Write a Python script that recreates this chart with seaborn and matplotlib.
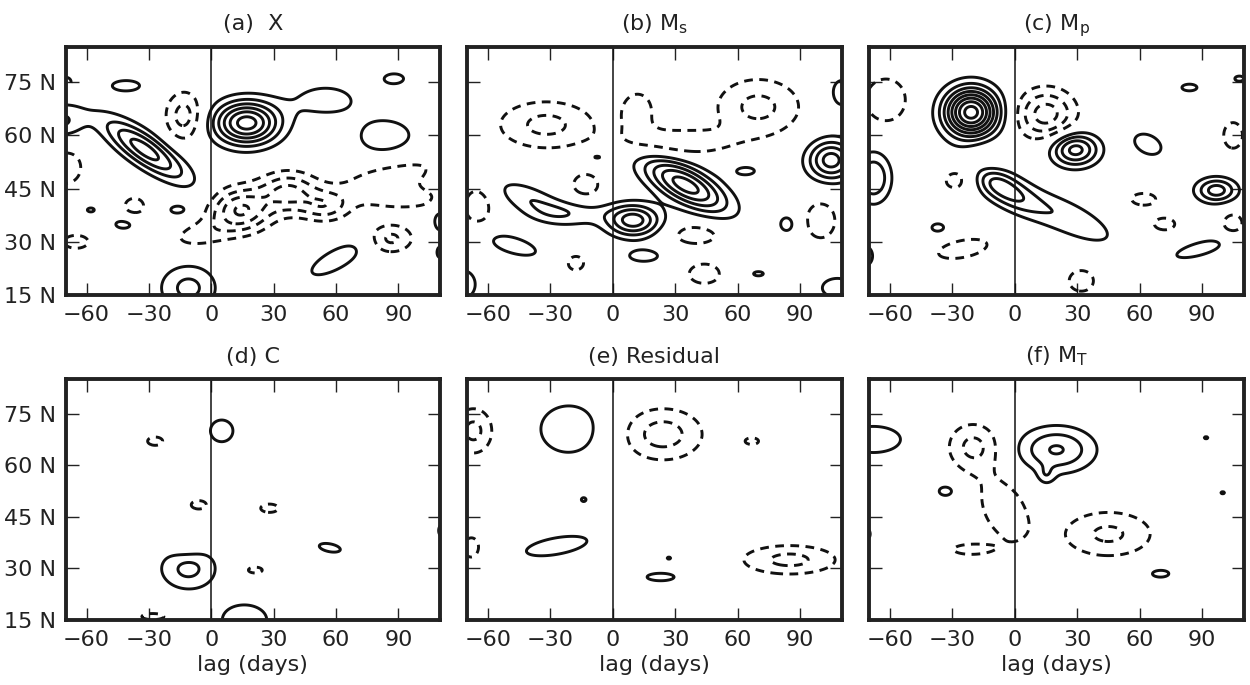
import numpy as np
import matplotlib
matplotlib.use("Agg")
import matplotlib.pyplot as plt
import seaborn as sns

# lag / latitude grid of the composites
lags = np.arange(-70, 110.5, 0.5)
lats = np.arange(15, 85.25, 0.25)
levels = [-9, -8, -7, -6, -5, -4, -3, -2, -1, 1, 2, 3, 4, 5, 6, 7, 8, 9]

# anomaly centres:
# (lag, lat, amplitude, lag width, lat width, lat tilt per day)
x_blobs = [
    (-32, 56, 4.5, 14, 3.6, -0.35), (-72, 64, 2.2, 8, 3.5, 0),
    (17, 63.5, 6.5, 11, 4.3, 0), (55, 70, 1.4, 14, 4, 0),
    (88, 76, 1.3, 6, 1.8, 0), (84, 59.5, 1.6, 12, 4.5, 0),
    (-41, 74, 1.3, 9, 2, 0), (-13, 65.5, -2.5, 6.5, 5, 0),
    (14, 39, -4, 10, 4.2, 0), (37, 44, -3.2, 10, 4, 0),
    (55, 40, -2.2, 8, 3, 0), (85, 48, -1.6, 20, 4, 0.15),
    (95, 42, -1.3, 15, 2.5, 0), (-5, 32, -1.4, 12, 3, 0.1),
    (-70, 51, -1.5, 8, 5, 0), (-37, 40, -1.5, 5, 2.5, 0),
    (-42, 35, 1.3, 6, 1.8, 0), (-16, 39, 1.3, 5, 1.5, 0),
    (-58, 39, 1.2, 3, 1, 0), (-65, 30, -1.3, 8, 2.5, 0),
    (-11, 17, 2.3, 10, 4.8, 0), (60, 25, 1.6, 12, 3, 0.27),
    (86, 31, -2.3, 8, 3, 0), (110, 36, 1.5, 3, 3, 0),
    (110, 27, 1.3, 2, 2, 0), (-70, 75, -1.3, 4, 2, 0),
]
ms_blobs = [
    (35, 46, 5.5, 14, 4, -0.25), (10, 36, 4.5, 9, 3.2, 0),
    (-20, 38, 1.5, 14, 2.5, 0), (105, 53, 4.5, 8, 4, 0),
    (-40, 42, 1.8, 12, 3, -0.2), (-48, 29, 1.5, 12, 2.5, -0.15),
    (-8, 54, 1.3, 6, 1.5, 0), (64, 50, 1.3, 6, 1.5, 0),
    (84, 35, 1.4, 4, 2.5, 0), (15, 26, 1.4, 8, 1.8, 0),
    (70, 21, 1.2, 4, 1, 0), (-72, 18, 1.6, 6, 4, 0),
    (108, 17, 1.5, 8, 3, 0), (110, 72, 1.5, 5, 4, 0),
    (-32, 63, -2.3, 17, 5, 0), (70, 68, -2.3, 15, 6, 0),
    (12, 67, -1.5, 7, 5, 0), (30, 58, -1.8, 20, 3, 0),
    (-13, 46, -1.6, 6, 3, 0), (-65, 40, -1.6, 6, 5, 0),
    (40, 32, -1.6, 10, 2.5, 0), (-18, 24, -1.4, 5, 2.5, 0),
    (44, 21, -1.5, 8, 3, 0), (100, 36, -1.6, 7, 5, 0),
]
mp_blobs = [
    (-21, 66.5, 8.5, 9, 4.8, 0), (29, 56, 4.5, 8, 3.3, 0),
    (-8, 46, 3.5, 12, 3.5, -0.3), (25, 37, 1.8, 18, 4, -0.25),
    (97, 44.5, 3.5, 7, 2.5, 0), (64, 57.5, 1.5, 7, 3, -0.15),
    (89, 28, 1.5, 12, 2, 0.15), (-68, 48, 3, 6, 5, 0),
    (-37, 34, 1.3, 4, 1.5, 0), (84, 73.5, 1.3, 5, 1.3, 0),
    (-72, 26, 1.5, 4, 3, 0), (108, 76, 1.3, 3, 1, 0),
    (15, 66, -3.5, 10, 5, 0), (-22, 50, -2, 10, 4, 0.2),
    (-62, 70, -2, 8, 5, 0), (-25, 28, -1.6, 12, 2.5, 0.1),
    (32, 19, -1.6, 6, 3, 0), (62, 42, -1.4, 7, 2, 0),
    (72, 35, -1.4, 6, 2, 0), (105, 60, -1.5, 5, 4, 0),
    (105, 35, -1.5, 5, 3, 0),
]
c_blobs = [
    (5, 70, 1.5, 6, 3.5, 0), (-11, 30, 2.3, 10, 4.6, 0),
    (57, 36, 1.3, 7, 1.6, -0.1), (16, 15, 1.6, 11, 4.5, 0),
    (111, 41, 1.4, 2, 2, 0), (-27, 67, -1.2, 6, 2, 0),
    (-6, 48.5, -1.2, 6, 2, 0), (-12, 38, -1.3, 6, 3, 0),
    (28, 47.5, -1.2, 7, 2, 0), (21, 29.5, -1.2, 6, 1.5, 0),
    (-28, 16, -1.2, 9, 1.5, 0),
]
res_blobs = [
    (-21, 70.5, 1.6, 14, 7, 0), (-27, 36.5, 1.6, 15, 2.5, 0.1),
    (-14, 50, 1.15, 2, 1, 0), (23, 27.5, 1.3, 9, 1.5, 0),
    (49, 35, 1.1, 2, 0.8, 0), (27, 33, 1.1, 2, 0.7, 0),
    (-67, 70, -2.3, 7, 5, 0), (-68, 36, -1.3, 5, 4, 0),
    (24, 69, -2.5, 14, 5.5, 0), (67, 67, -1.2, 5, 1.5, 0),
    (85, 32.5, -2.3, 17, 3.2, 0),
]
mt_blobs = [
    (20, 64.5, 3.1, 13, 4.7, 0), (15, 57, 1.2, 3, 2, 0),
    (-68, 67.5, 1.8, 12, 3.5, 0), (-33, 52.5, 1.3, 5, 2, 0),
    (70, 28.5, 1.3, 6, 1.5, 0), (92, 68, 1.1, 2, 0.7, 0),
    (100, 52, 1.1, 2, 0.7, 0), (-71, 40, 1.3, 2, 2, 0),
    (-20, 65.5, -2.2, 9, 5, 0), (-5, 47, -1.6, 11, 8, -0.3),
    (45, 40, -2.2, 16, 5, 0), (-22, 35.5, -1.3, 10, 1.8, 0),
]

titles = ["(a)  X", r"(b) M$_{\rm s}$", r"(c) M$_{\rm p}$",
          "(d) C", "(e) Residual", r"(f) M$_{\rm T}$"]
panel_blobs = [x_blobs, ms_blobs, mp_blobs, c_blobs, res_blobs, mt_blobs]
xticks = [-60, -30, 0, 30, 60, 90]
yticks = [15, 30, 45, 60, 75]
ytick_labels = ["15 N", "30 N", "45 N", "60 N", "75 N"]


def make_field(blobs):
    L, P = np.meshgrid(lags, lats)
    z = np.zeros_like(L)
    for lag0, lat0, amp, sx, sy, tilt in blobs:
        dy = P - lat0 - tilt * (L - lag0)
        z += amp * np.exp(-0.5 * ((L - lag0) / sx) ** 2 - 0.5 * (dy / sy) ** 2)
    return z


sns.set_style("ticks")
plt.rcParams.update({
    "font.family": ["DejaVu Sans"],
    "font.size": 16,
    "xtick.labelsize": 16, "ytick.labelsize": 16,
    "axes.linewidth": 2.8,
    "axes.edgecolor": "#222222",
    "xtick.direction": "in", "ytick.direction": "in",
    "xtick.top": True, "ytick.right": True,
    "xtick.major.size": 9, "ytick.major.size": 9,
    "xtick.major.width": 1.0, "ytick.major.width": 1.0,
    "xtick.major.pad": 7, "ytick.major.pad": 7,
    "xtick.color": "#222222", "ytick.color": "#222222",
    "text.color": "#222222", "axes.labelcolor": "#222222",
})

fig = plt.figure(figsize=(12.5, 6.85), dpi=100)
lefts = [0.0526, 0.3738, 0.6954]
bottoms = [0.5693, 0.0949]
heights = [0.3625, 0.3514]
width = 0.2994

# negative anomalies dashed, positive solid
dash = (0, (3, 2.2))
styles = [dash if lv < 0 else "solid" for lv in levels]

for i, (blobs, title) in enumerate(zip(panel_blobs, titles)):
    row, col = divmod(i, 3)
    ax = fig.add_axes([lefts[col], bottoms[row], width, heights[row]])
    z = make_field(blobs)
    ax.contour(lags, lats, z, levels=levels, colors="#111111",
               linewidths=2.1, linestyles=styles)
    ax.axvline(0, color="#111111", lw=1.1)
    ax.set_xlim(-70, 110)
    ax.set_ylim(15, 85)
    ax.set_xticks(xticks)
    ax.set_yticks(yticks)
    if col == 0:
        ax.set_yticklabels(ytick_labels)
    else:
        ax.set_yticklabels([])
    if row == 1:
        ax.set_xlabel("lag (days)", fontsize=16)
    ax.set_title(title, fontsize=16, pad=12)

fig.savefig("out.png", dpi=100)
